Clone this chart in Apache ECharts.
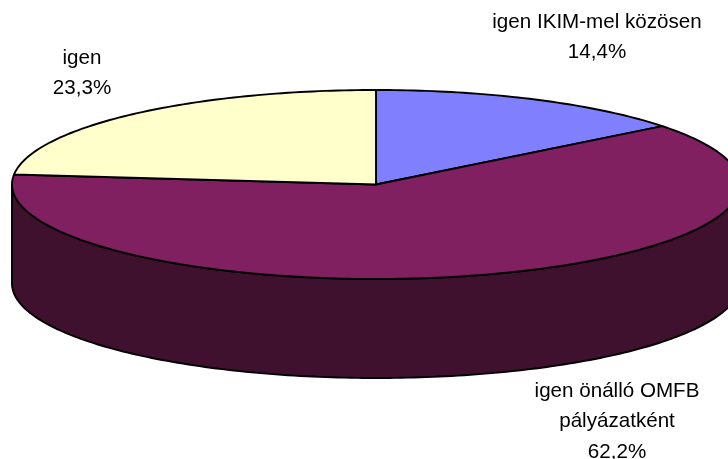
<!DOCTYPE html>
<html>
<head>
<meta charset="utf-8">
<style>html,body{margin:0;padding:0;background:#fff}#c{width:728px;height:459px}</style>
<script src="https://cdn.jsdelivr.net/npm/echarts@6/dist/echarts.min.js"></script>
</head>
<body>
<div id="c"></div>
<script>
const categories = ['igen IKIM-mel közösen', 'igen önálló OMFB\npályázatként', 'igen'];
const values = [14.4, 62.2, 23.3];
const sliceColors = ['#8080ff', '#802060', '#ffffcc'];
const sideColors = ['#40102f', '#40102f', '#40102f'];
const labelAnchors = [[597, 7], [617, 376], [82, 43]];

const pie = { cx: 376, cy: 184.5, rx: 364, ry: 94.5, depth: 99 };
const total = values.reduce((a, b) => a + b, 0);
const rim = (deg, dy) => {
  const r = deg * Math.PI / 180;
  return [pie.cx + pie.rx * Math.sin(r), pie.cy + (dy || 0) - pie.ry * Math.cos(r)];
};
const arc = (from, to, dy) => {
  const pts = [], n = Math.max(2, Math.ceil(Math.abs(to - from)));
  for (let i = 0; i <= n; i++) pts.push(rim(from + (to - from) * i / n, dy));
  return pts;
};
const line = { stroke: '#000', lineWidth: 1.9, lineJoin: 'round' };

function renderItem(params, api) {
  const i = params.dataIndex;
  let before = 0;
  for (let k = 0; k < i; k++) before += values[k];
  const a0 = before / total * 360, a1 = (before + api.value(0)) / total * 360;
  const children = [];
  const s0 = Math.max(a0, 90), s1 = Math.min(a1, 270);
  if (s1 > s0) {
    const edge = arc(s0, s1, 0);
    const low = arc(s1, s0, pie.depth);
    children.push({
      type: 'polygon',
      shape: { points: edge.concat(low) },
      style: Object.assign({ fill: sideColors[i] }, line)
    });
  }
  children.push({
    type: 'polygon',
    shape: { points: [[pie.cx, pie.cy]].concat(arc(a0, a1, 0)) },
    style: Object.assign({ fill: sliceColors[i] }, line)
  });
  const pct = api.value(0).toFixed(1).replace('.', ',') + '%';
  children.push({
    type: 'text',
    z2: 10,
    style: {
      x: labelAnchors[i][0], y: labelAnchors[i][1],
      text: categories[i] + '\n' + pct,
      fill: '#000',
      font: '20.6px "Liberation Sans", Arial, sans-serif',
      align: 'center', verticalAlign: 'top',
      lineHeight: 30.5
    }
  });
  return { type: 'group', children };
}

const chart = echarts.init(document.getElementById('c'), null, { renderer: 'canvas' });
chart.setOption({
  animation: false,
  backgroundColor: '#fff',
  series: [{
    type: 'custom',
    coordinateSystem: 'none',
    clip: false,
    silent: true,
    renderItem,
    data: values.map(v => [v])
  }]
});
</script>
</body>
</html>
